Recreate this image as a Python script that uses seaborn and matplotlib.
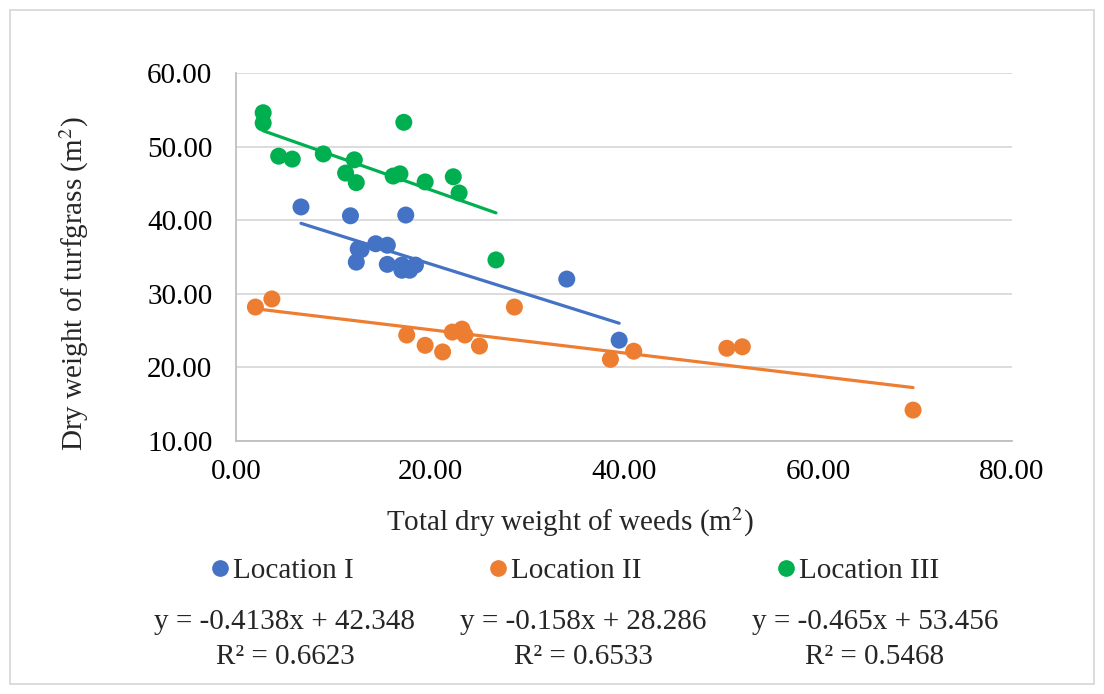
import numpy as np
import pandas as pd
import matplotlib
matplotlib.use("Agg")
import matplotlib.pyplot as plt
import seaborn as sns
from matplotlib.patches import Rectangle
from matplotlib.lines import Line2D

# ---- data ----
loc1_x = [6.7, 11.8, 17.5, 12.6, 12.9, 12.4, 14.4, 15.6, 15.6, 17.1, 17.1, 17.9, 18.5, 34.1, 39.5]
loc1_y = [41.8, 40.6, 40.7, 36.1, 36.0, 34.3, 36.8, 36.6, 34.0, 33.9, 33.2, 33.2, 33.9, 32.0, 23.7]

loc2_x = [2.0, 3.7, 17.6, 19.5, 21.3, 22.3, 23.3, 23.6, 25.1, 28.7, 38.6, 41.0, 50.6, 52.2, 69.8]
loc2_y = [28.2, 29.3, 24.4, 23.0, 22.1, 24.8, 25.2, 24.4, 22.9, 28.2, 21.1, 22.2, 22.6, 22.8, 14.2]

loc3_x = [2.8, 2.8, 4.4, 5.8, 9.0, 12.2, 11.3, 12.4, 16.2, 16.9, 17.3, 19.5, 22.4, 23.0, 26.8]
loc3_y = [54.6, 53.2, 48.7, 48.3, 49.0, 48.2, 46.4, 45.1, 46.0, 46.3, 53.3, 45.2, 45.9, 43.7, 34.6]

series_names = ["Location I", "Location II", "Location III"]
slopes = [-0.4138, -0.158, -0.465]
intercepts = [42.348, 28.286, 53.456]
r2_values = ["0.6623", "0.6533", "0.5468"]
eq_texts = ["y = -0.4138x + 42.348", "y = -0.158x + 28.286", "y = -0.465x + 53.456"]

x_ticks = [0, 20, 40, 60, 80]
y_ticks = [10, 20, 30, 40, 50, 60]

colors = ["#4472C4", "#ED7D31", "#00B050"]

sns.set_theme(style="white")
plt.rcParams["font.family"] = ["Liberation Serif", "DejaVu Serif"]
plt.rcParams["mathtext.fontset"] = "stix"

FS = 21
W, H = 1104, 694
fig = plt.figure(figsize=(W / 100, H / 100), dpi=100)
ax = fig.add_axes([236 / W, 1 - 441 / H, (1012 - 236) / W, (441 - 73) / H])

df = pd.concat([
    pd.DataFrame({"x": loc1_x, "y": loc1_y, "loc": series_names[0]}),
    pd.DataFrame({"x": loc2_x, "y": loc2_y, "loc": series_names[1]}),
    pd.DataFrame({"x": loc3_x, "y": loc3_y, "loc": series_names[2]}),
])

sns.scatterplot(data=df, x="x", y="y", hue="loc", palette=colors, s=150,
                edgecolor="none", linewidth=0, ax=ax, legend=False, zorder=3)

xs_all = [loc1_x, loc2_x, loc3_x]
for i in range(3):
    xx = np.array([min(xs_all[i]), max(xs_all[i])])
    yy = slopes[i] * xx + intercepts[i]
    sns.lineplot(x=xx, y=yy, color=colors[i], lw=2.3, ax=ax, zorder=4)

ax.set_xlim(0, 80)
ax.set_ylim(10, 60)
ax.set_xticks(x_ticks)
ax.set_yticks(y_ticks)
ax.set_xticklabels([f"{v:.2f}" for v in x_ticks], fontsize=FS)
ax.set_yticklabels([f"{v:.2f}" for v in y_ticks], fontsize=FS)
ax.grid(axis="y", color="#D9D9D9", lw=1.3)
ax.grid(axis="x", visible=False)
for s in ["top", "right"]:
    ax.spines[s].set_visible(False)
for s in ["left", "bottom"]:
    ax.spines[s].set_color("#BFBFBF")
    ax.spines[s].set_linewidth(1.3)
ax.tick_params(axis="both", direction="out", length=5, width=1.3, color="#BFBFBF",
               pad=8, labelcolor="black")
ax.tick_params(axis="y", pad=12)
xl = ax.set_xlabel("Total dry weight of weeds (m$^2$)", fontsize=FS, va="center", ha="center")
ax.xaxis.set_label_coords((570 - 236) / 776, (441 - 522) / 368)
yl = ax.set_ylabel("Dry weight of turfgrass (m$^2$)", fontsize=FS, va="center", ha="center")
ax.yaxis.set_label_coords((74 - 236) / 776, (441 - 284) / 368)
ax.set_axisbelow(True)

# legend
handles = [Line2D([0], [0], marker="o", ls="", color=c, markersize=11) for c in colors]
fig.legend(handles, series_names, loc="center", bbox_to_anchor=(573 / W, 1 - 571 / H),
           ncol=3, frameon=False, fontsize=FS, handletextpad=0.0, columnspacing=4.5,
           handlelength=0.9)

# equations
centers = [285, 583, 875]
for i in range(3):
    fig.text(centers[i] / W, 1 - 622 / H, eq_texts[i], ha="center", va="center", fontsize=FS)
    fig.text(centers[i] / W, 1 - 657 / H, f"R² = {r2_values[i]}", ha="center", va="center", fontsize=FS)

# outer border
fig.add_artist(Rectangle((10 / W, 10 / H), 1 - 20 / W, 1 - 20 / H, transform=fig.transFigure,
                         fill=False, edgecolor="#D9D9D9", lw=1.3))

fig.savefig("out.png", dpi=100)
